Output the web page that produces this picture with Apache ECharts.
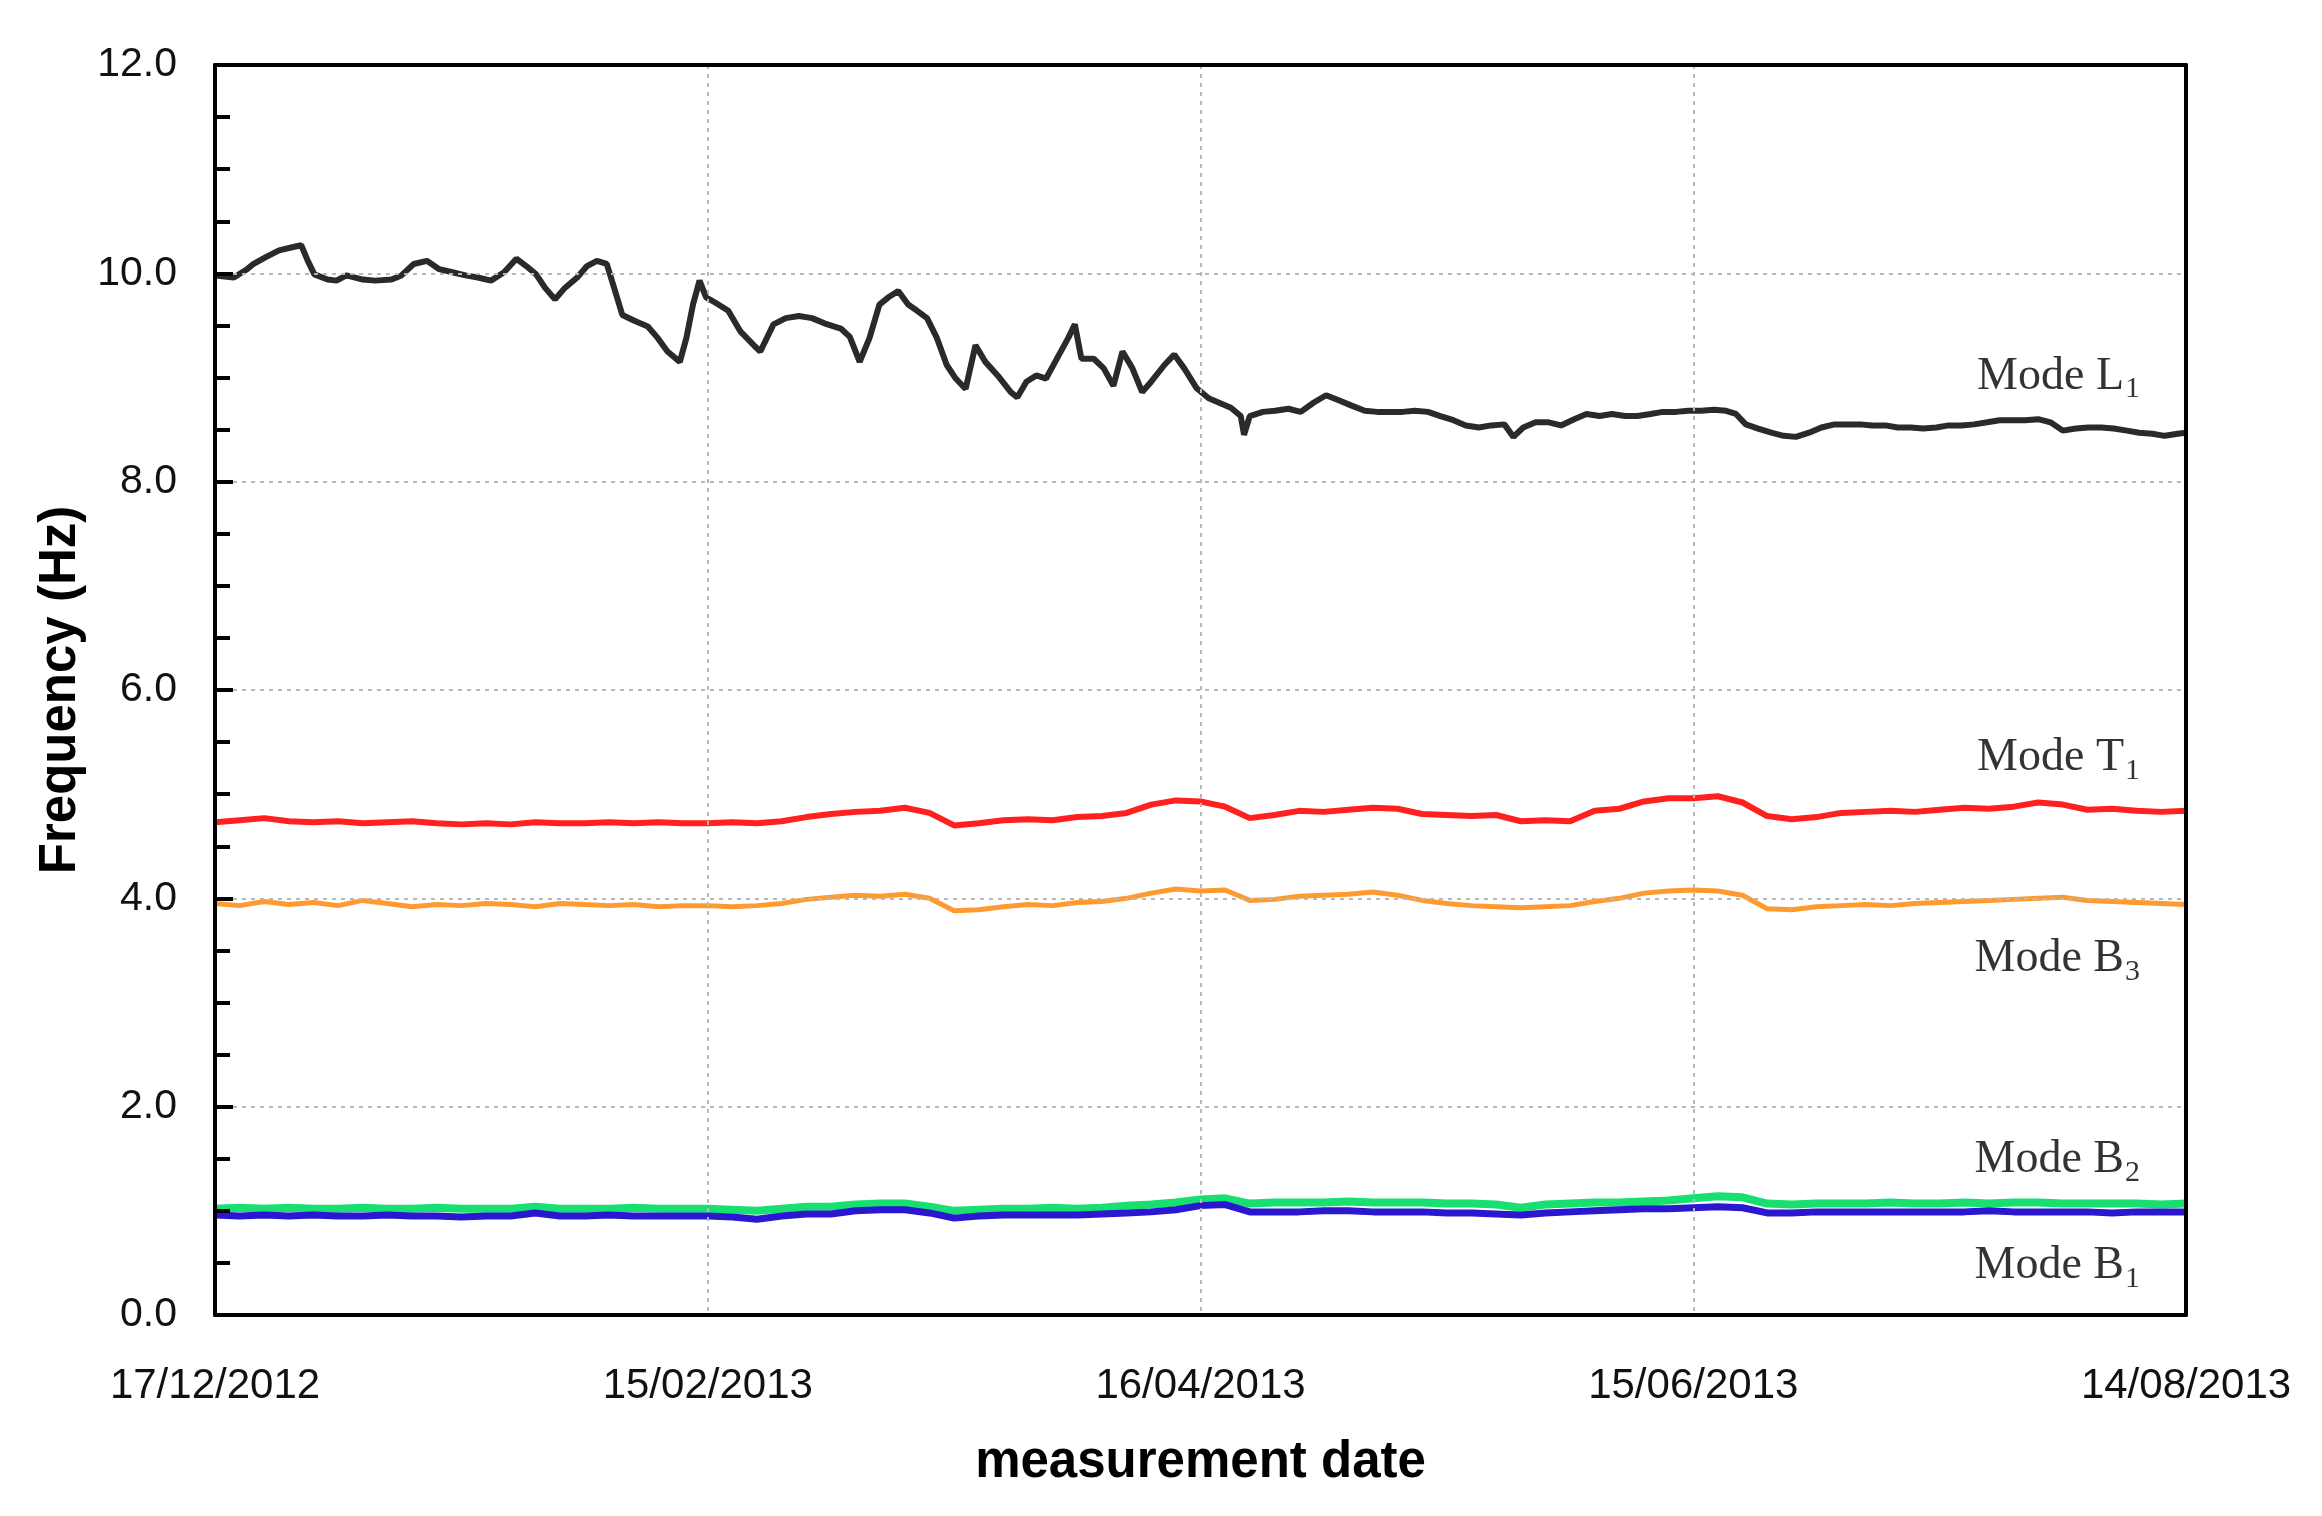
<!DOCTYPE html>
<html>
<head>
<meta charset="utf-8">
<script src="https://cdn.jsdelivr.net/npm/echarts@6/dist/echarts.min.js"></script>
<style>
html,body{margin:0;padding:0;background:#fff;}
#chart{width:2322px;height:1516px;}
</style>
</head>
<body>
<div id="chart"></div>
<script>
// ---- DATA (days since 17/12/2012, frequencies in Hz) ----
const startDate = [2012, 12, 17];
const xTickDays = [0, 60, 120, 180, 240];
const yTicks = [0, 2, 4, 6, 8, 10, 12];

const modeL1Days = [0,2.3,3.9,4.7,6.3,7.8,9.4,10.5,11.3,12.1,13.7,14.8,16,18,19.5,21.5,22.7,24.2,25.8,27.3,28.9,30.5,32,33.6,35.2,36.7,37.9,39.1,40.2,41.4,42.6,44.1,45.3,46.5,47.7,48.6,49.6,51.2,52.7,53.9,55.1,56.6,57.4,58.2,59,59.8,60.9,62.5,64,65.6,66.4,68,69.5,71.1,72.7,74.2,76.2,77.3,78.5,79.7,80.9,82,83.2,84.4,85.5,86.7,87.9,89.1,90.2,91.4,92.6,93.8,95.3,96.9,97.7,98.8,100,101.2,102.3,103.9,104.7,105.5,107,108.2,109.4,110.5,111.7,112.9,114,115.6,116.8,118,119.5,121,122.2,123.7,124.9,125.3,126,127.6,129.1,130.7,132.2,133.8,135.3,136.9,138.4,140,141.5,143,144.6,146.1,147.7,149.2,150.8,152.3,153.9,155.4,157,158.1,159.3,160.8,162.4,163.9,165.5,167,168.6,170.1,171.7,173.2,174.8,176.3,177.9,179.4,181,182.5,184,185.2,186.4,187.9,189.5,191,192.5,194.1,195.6,197.2,198.7,200.3,201.8,203.4,204.9,206.5,208,209.6,211.1,212.7,214.2,215.8,217.3,218.9,220.4,222,223.5,225,226.6,228.1,229.7,231.2,232.8,234.3,235.9,237.4,239,240];
const modeL1 = [9.98,9.96,10.04,10.09,10.16,10.22,10.25,10.27,10.12,9.99,9.94,9.93,9.98,9.94,9.93,9.94,9.98,10.09,10.12,10.04,10.01,9.98,9.96,9.93,10.01,10.14,10.07,9.99,9.86,9.75,9.86,9.96,10.07,10.12,10.09,9.86,9.60,9.54,9.49,9.38,9.25,9.15,9.38,9.70,9.93,9.77,9.72,9.64,9.44,9.31,9.25,9.51,9.57,9.59,9.57,9.52,9.47,9.39,9.15,9.38,9.70,9.77,9.83,9.70,9.64,9.57,9.38,9.12,8.99,8.89,9.31,9.15,9.02,8.86,8.81,8.96,9.02,8.99,9.15,9.38,9.51,9.18,9.18,9.09,8.92,9.25,9.09,8.86,8.96,9.12,9.22,9.09,8.90,8.80,8.76,8.71,8.63,8.45,8.63,8.67,8.68,8.70,8.67,8.76,8.83,8.78,8.73,8.68,8.67,8.67,8.67,8.68,8.67,8.63,8.59,8.54,8.52,8.54,8.55,8.43,8.52,8.57,8.57,8.54,8.60,8.65,8.63,8.65,8.63,8.63,8.65,8.67,8.67,8.68,8.68,8.69,8.68,8.65,8.55,8.51,8.47,8.44,8.43,8.47,8.52,8.55,8.55,8.55,8.54,8.54,8.52,8.52,8.51,8.52,8.54,8.54,8.55,8.57,8.59,8.59,8.59,8.60,8.57,8.49,8.51,8.52,8.52,8.51,8.49,8.47,8.46,8.44,8.46,8.47];

// common 3-day grid for the flatter modes
const gridDays = [0,3,6,9,12,15,18,21,24,27,30,33,36,39,42,45,48,51,54,57,60,63,66,69,72,75,78,81,84,87,90,93,96,99,102,105,108,111,114,117,120,123,126,129,132,135,138,141,144,147,150,153,156,159,162,165,168,171,174,177,180,183,186,189,192,195,198,201,204,207,210,213,216,219,222,225,228,231,234,237,240];
const modeT1 = [4.73,4.75,4.77,4.74,4.73,4.74,4.72,4.73,4.74,4.72,4.71,4.72,4.71,4.73,4.72,4.72,4.73,4.72,4.73,4.72,4.72,4.73,4.72,4.74,4.78,4.81,4.83,4.84,4.87,4.82,4.70,4.72,4.75,4.76,4.75,4.78,4.79,4.82,4.90,4.94,4.93,4.88,4.77,4.80,4.84,4.83,4.85,4.87,4.86,4.81,4.80,4.79,4.80,4.74,4.75,4.74,4.84,4.86,4.93,4.96,4.96,4.98,4.92,4.79,4.76,4.78,4.82,4.83,4.84,4.83,4.85,4.87,4.86,4.88,4.92,4.90,4.85,4.86,4.84,4.83,4.84];
const modeB3 = [3.95,3.93,3.97,3.94,3.96,3.93,3.98,3.95,3.92,3.94,3.93,3.95,3.94,3.92,3.95,3.94,3.93,3.94,3.92,3.93,3.93,3.92,3.93,3.95,3.99,4.01,4.03,4.02,4.04,4.00,3.88,3.89,3.92,3.94,3.93,3.96,3.97,4.00,4.05,4.09,4.07,4.08,3.98,3.99,4.02,4.03,4.04,4.06,4.03,3.98,3.95,3.93,3.92,3.91,3.92,3.93,3.97,4.00,4.05,4.07,4.08,4.07,4.03,3.90,3.89,3.92,3.93,3.94,3.93,3.95,3.96,3.97,3.98,3.99,4.00,4.01,3.98,3.97,3.96,3.95,3.94];
const modeB2 = [1.02,1.03,1.02,1.03,1.02,1.02,1.03,1.02,1.02,1.03,1.02,1.02,1.02,1.04,1.02,1.02,1.02,1.03,1.02,1.02,1.02,1.01,1.00,1.02,1.04,1.04,1.06,1.07,1.07,1.04,1.00,1.01,1.02,1.02,1.03,1.02,1.03,1.05,1.06,1.08,1.11,1.12,1.07,1.08,1.08,1.08,1.09,1.08,1.08,1.08,1.07,1.07,1.06,1.03,1.06,1.07,1.08,1.08,1.09,1.10,1.12,1.14,1.13,1.07,1.06,1.07,1.07,1.07,1.08,1.07,1.07,1.08,1.07,1.08,1.08,1.07,1.07,1.07,1.07,1.06,1.07];
const modeB1 = [0.96,0.95,0.96,0.95,0.96,0.95,0.95,0.96,0.95,0.95,0.94,0.95,0.95,0.98,0.95,0.95,0.96,0.95,0.95,0.95,0.95,0.94,0.92,0.95,0.97,0.97,1.00,1.01,1.01,0.98,0.93,0.95,0.96,0.96,0.96,0.96,0.97,0.98,0.99,1.01,1.05,1.06,0.99,0.99,0.99,1.00,1.00,0.99,0.99,0.99,0.98,0.98,0.97,0.96,0.98,0.99,1.00,1.01,1.02,1.02,1.03,1.04,1.03,0.98,0.98,0.99,0.99,0.99,0.99,0.99,0.99,0.99,1.00,0.99,0.99,0.99,0.99,0.98,0.99,0.99,0.99];

// series label texts and anchor values (day, Hz)
const labelNames = ['Mode L', 'Mode T', 'Mode B', 'Mode B', 'Mode B'];
const labelSubs = ['1', '1', '3', '2', '1'];
const labelDay = 234.4;
const labelHz = [9.01, 5.35, 3.42, 1.49, 0.47];

// ---- CHART ----
function zip(xs, ys) { return xs.map((x, i) => [x, ys[i]]); }
function dayLabel(d) {
  const dt = new Date(Date.UTC(startDate[0], startDate[1] - 1, startDate[2]) + d * 86400000);
  const dd = String(dt.getUTCDate()).padStart(2, '0');
  const mm = String(dt.getUTCMonth() + 1).padStart(2, '0');
  return dd + '/' + mm + '/' + dt.getUTCFullYear();
}

const chart = echarts.init(document.getElementById('chart'));
const sansFont = '"Liberation Sans", Arial, sans-serif';
const serifFont = '"Liberation Serif", "Times New Roman", serif';
const gridLine = { show: true, showMinLine: false, showMaxLine: false, lineStyle: { color: '#b8b8b8', width: 2, type: [4, 5] } };

function lineSeries(name, data, color, width) {
  return {
    name: name, type: 'line', data: data, showSymbol: false, symbol: 'none',
    lineStyle: { color: color, width: width }, silent: true, animation: false, z: 3
  };
}

chart.setOption({
  animation: false,
  backgroundColor: '#fff',
  grid: { left: 215, right: 136, top: 65, bottom: 201, show: false, containLabel: false },
  xAxis: [{
    type: 'value', min: xTickDays[0], max: xTickDays[xTickDays.length - 1], interval: 60,
    name: 'measurement date', nameLocation: 'middle', nameGap: 122,
    nameTextStyle: { fontFamily: sansFont, fontWeight: 'bold', fontSize: 51, color: '#000' },
    axisLine: { show: true, lineStyle: { color: '#000', width: 4 } },
    axisTick: { show: false },
    axisLabel: { fontFamily: sansFont, fontSize: 42, color: '#111', margin: 50, formatter: v => dayLabel(v) },
    splitLine: gridLine, z: 6
  }, {
    type: 'value', position: 'top', min: 0, max: 240, interval: 60,
    axisLine: { show: true, onZero: false, lineStyle: { color: '#000', width: 4 } },
    axisTick: { show: false }, axisLabel: { show: false }, splitLine: { show: false }, z: 6
  }],
  yAxis: [{
    type: 'value', min: yTicks[0], max: yTicks[yTicks.length - 1], interval: 2,
    name: 'Frequency (Hz)', nameLocation: 'middle', nameGap: 126, nameRotate: 90,
    nameTextStyle: { fontFamily: sansFont, fontWeight: 'bold', fontSize: 51, color: '#000' },
    axisLine: { show: true, lineStyle: { color: '#000', width: 4 } },
    axisTick: { show: true, inside: true, length: 18, lineStyle: { color: '#000', width: 4 } },
    minorTick: { show: true, splitNumber: 4, length: 15, lineStyle: { color: '#000', width: 4 } },
    axisLabel: { fontFamily: sansFont, fontSize: 41, color: '#111', margin: 38, formatter: v => v.toFixed(1) },
    splitLine: gridLine, z: 6
  }, {
    type: 'value', position: 'right', min: 0, max: 12, interval: 2,
    axisLine: { show: true, onZero: false, lineStyle: { color: '#000', width: 4 } },
    axisTick: { show: false }, axisLabel: { show: false }, splitLine: { show: false }, z: 6
  }],
  series: [
    lineSeries('Mode L1', zip(modeL1Days, modeL1), '#2a2a2a', 6),
    lineSeries('Mode T1', zip(gridDays, modeT1), '#ff2020', 6),
    lineSeries('Mode B3', zip(gridDays, modeB3), '#ff9a30', 5),
    lineSeries('Mode B2', zip(gridDays, modeB2), '#18e070', 8),
    lineSeries('Mode B1', zip(gridDays, modeB1), '#2a18d0', 7),
    {
      type: 'scatter', silent: true, symbolSize: 0, z: 5,
      data: labelHz.map(v => [labelDay, v]),
      label: {
        show: true, position: 'left', distance: 0,
        formatter: p => '{a|' + labelNames[p.dataIndex] + '}{b|' + labelSubs[p.dataIndex] + '}',
        rich: {
          a: { fontFamily: serifFont, fontSize: 46, color: '#000', lineHeight: 54 },
          b: { fontFamily: serifFont, fontSize: 30, color: '#000', lineHeight: 30, padding: [26, 0, 0, 1] }
        }
      }
    }
  ]
});
</script>
</body>
</html>
